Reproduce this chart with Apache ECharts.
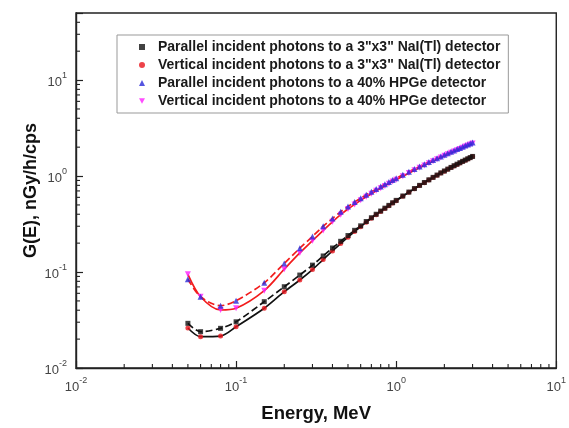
<!DOCTYPE html>
<html>
<head>
<meta charset="utf-8">
<script src="https://cdn.jsdelivr.net/npm/echarts@6/dist/echarts.min.js"></script>
<style>html,body{margin:0;padding:0;background:#fff}#c{width:569px;height:428px}</style>
</head>
<body>
<div id="c"></div>
<script>
const energy = [0.05,0.06,0.08,0.1,0.15,0.2,0.25,0.3,0.35,0.4,0.45,0.5,0.55,0.6,0.65,0.7,0.75,0.8,0.85,0.9,0.95,1.0,1.1,1.2,1.3,1.4,1.5,1.6,1.7,1.8,1.9,2.0,2.1,2.2,2.3,2.4,2.5,2.6,2.7,2.8,2.9,3.0];
const naiParallel = [0.0292,0.0239,0.0259,0.0303,0.0491,0.0703,0.093,0.118,0.147,0.178,0.209,0.240,0.272,0.303,0.336,0.368,0.400,0.432,0.463,0.495,0.527,0.558,0.620,0.681,0.741,0.800,0.857,0.914,0.969,1.024,1.079,1.130,1.181,1.231,1.282,1.329,1.377,1.424,1.468,1.514,1.557,1.601];
const naiVertical = [0.0261,0.0212,0.0215,0.0269,0.0419,0.0624,0.0826,0.106,0.135,0.166,0.198,0.231,0.264,0.296,0.330,0.363,0.396,0.428,0.459,0.491,0.523,0.554,0.616,0.677,0.737,0.796,0.853,0.910,0.965,1.020,1.074,1.125,1.176,1.226,1.276,1.323,1.371,1.418,1.462,1.508,1.550,1.594];
const hpgeParallel = [0.084,0.0553,0.0446,0.0502,0.0774,0.123,0.177,0.235,0.300,0.362,0.425,0.482,0.536,0.588,0.638,0.686,0.732,0.778,0.822,0.866,0.909,0.951,1.031,1.109,1.185,1.259,1.331,1.401,1.470,1.537,1.603,1.666,1.729,1.790,1.850,1.909,1.966,2.023,2.079,2.134,2.187,2.239];
const hpgeVertical = [0.0946,0.0553,0.0402,0.0419,0.064,0.107,0.158,0.212,0.271,0.334,0.396,0.453,0.506,0.558,0.607,0.655,0.701,0.747,0.790,0.833,0.876,0.917,0.996,1.073,1.148,1.221,1.291,1.360,1.427,1.494,1.560,1.624,1.686,1.745,1.804,1.861,1.917,1.972,2.027,2.081,2.132,2.183];
const seriesNames = [
  'Parallel incident photons to a 3"x3" NaI(Tl) detector',
  'Vertical incident photons to a 3"x3" NaI(Tl) detector',
  'Parallel incident photons to a 40% HPGe detector',
  'Vertical incident photons to a 40% HPGe detector'
];
const xMinorTicks = [0.02,0.03,0.04,0.05,0.06,0.07,0.08,0.09,0.2,0.3,0.4,0.5,0.6,0.7,0.8,0.9,2,3,4,5,6,7,8,9];
const yMinorTicks = [0.02,0.03,0.04,0.05,0.06,0.07,0.08,0.09,0.2,0.3,0.4,0.5,0.6,0.7,0.8,0.9,2,3,4,5,6,7,8,9,20,30,40];
const xTitle = 'Energy, MeV';
const yTitle = 'G(E), nGy/h/cps';

const pair = arr => energy.map((e, i) => [e, arr[i]]);
const FONT = 'Liberation Sans, Arial, sans-serif';
const AX = '#222';

function fmt(v) {
  const l = Math.log10(v);
  const r = Math.round(l);
  if (Math.abs(l - r) > 0.01) return '';
  return '{b|10}{s|' + r + '}';
}
const rich = {
  b: {fontSize: 13, fontFamily: FONT, color: '#444', verticalAlign: 'bottom', lineHeight: 18},
  s: {fontSize: 9, fontFamily: FONT, color: '#444', verticalAlign: 'top', lineHeight: 12}
};

const chart = echarts.init(document.getElementById('c'));
const markerDefs = [
  {data: naiParallel, symbol: 'rect', size: 5, color: '#111', z: 6},
  {data: naiVertical, symbol: 'circle', size: 5, color: '#e8141b', z: 5},
  {data: hpgeParallel, symbol: 'triangle', size: 6, color: '#2a2ad8', z: 6},
  {data: hpgeVertical, symbol: 'path://M0,0 L10,0 L5,9 Z', size: 6, color: '#ff20ff', z: 5}
];
const markerSeries = markerDefs.map((s, i) => ({
  type: 'scatter', name: seriesNames[i], data: pair(s.data), symbol: s.symbol,
  symbolSize: s.size, itemStyle: {color: s.color}, z: s.z, silent: true
}));
const lineSeries = [
  {data: naiParallel, color: '#111', type: 'dashed'},
  {data: naiVertical, color: '#111', type: 'solid'},
  {data: hpgeParallel, color: '#f21c1c', type: 'dashed'},
  {data: hpgeVertical, color: '#f21c1c', type: 'solid'}
].map(s => ({
  type: 'line', data: pair(s.data), showSymbol: false, symbol: 'none', smooth: 0.3,
  lineStyle: {color: s.color, width: 1.7, type: s.type}, z: 3, silent: true
}));

const minorX = {
  type: 'custom', silent: true, z: 7,
  data: xMinorTicks.map(v => [v, 1]),
  renderItem: (params, api) => {
    const cs = params.coordSys;
    const x = api.coord([api.value(0), 1])[0];
    const yb = cs.y + cs.height;
    return {type: 'line', shape: {x1: x, y1: yb, x2: x, y2: yb - 4}, style: {stroke: AX, lineWidth: 1.1}};
  }
};
const minorY = {
  type: 'custom', silent: true, z: 7,
  data: yMinorTicks.map(v => [1, v]),
  renderItem: (params, api) => {
    const cs = params.coordSys;
    const y = api.coord([1, api.value(1)])[1];
    return {type: 'line', shape: {x1: cs.x, y1: y, x2: cs.x + 4, y2: y}, style: {stroke: AX, lineWidth: 1.1}};
  }
};

chart.setOption({
  animation: false,
  backgroundColor: '#fff',
  grid: {left: 76, right: 9, top: 13, bottom: 60, show: true, borderColor: AX, borderWidth: 1.4, containLabel: false},
  legend: {
    data: seriesNames, orient: 'vertical', left: 117, top: 35,
    padding: [3, 8, 3, 22], itemGap: 0, itemWidth: 6, itemHeight: 6,
    borderColor: '#999', borderWidth: 1,
    textStyle: {fontFamily: FONT, fontWeight: 'bold', fontSize: 14, color: '#1a1a1a', lineHeight: 18, padding: [0, 0, 0, 8]}
  },
  xAxis: {
    type: 'log', logBase: 10, min: 0.01, max: 10,
    axisLine: {lineStyle: {color: AX, width: 1.4}},
    axisTick: {inside: true, length: 7, lineStyle: {color: AX, width: 1.2}},
    splitLine: {show: false}, minorTick: {show: false},
    axisLabel: {formatter: fmt, rich: rich, margin: 8},
    name: xTitle, nameLocation: 'middle', nameGap: 36, nameMoveOverlap: false,
    nameTextStyle: {fontFamily: FONT, fontWeight: 'bold', fontSize: 18.5, color: '#111'}
  },
  yAxis: {
    type: 'log', logBase: 10, min: 0.01, max: 50,
    axisLine: {lineStyle: {color: AX, width: 1.4}},
    axisTick: {inside: true, length: 7, lineStyle: {color: AX, width: 1.2}},
    splitLine: {show: false}, minorTick: {show: false},
    axisLabel: {formatter: fmt, rich: rich, margin: 9},
    name: yTitle, nameLocation: 'middle', nameGap: 36, nameRotate: 90, nameMoveOverlap: false,
    nameTextStyle: {fontFamily: FONT, fontWeight: 'bold', fontSize: 18, color: '#111'}
  },
  series: [...lineSeries, ...markerSeries, minorX, minorY]
});
</script>
</body>
</html>
